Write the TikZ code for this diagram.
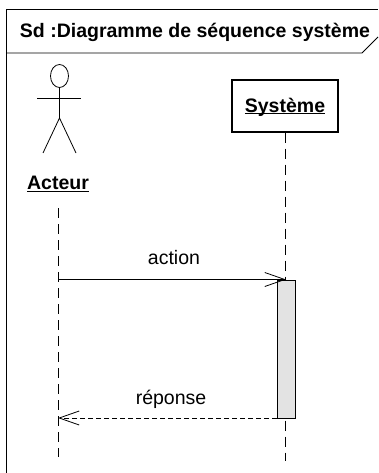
\documentclass[tikz,border=0pt]{standalone}
\usepackage{fontspec}
\setmainfont{Liberation Sans}
\usepackage{tikz}
\usetikzlibrary{arrows.meta}
\usetikzlibrary{shapes.geometric}

\begin{document}
\begin{tikzpicture}[x=1pt,y=-1pt,line width=1pt,
        lifeline/.style={dash pattern=on 10pt off 6pt,line width=0.8pt},
        message/.style={-{Straight Barb[length=20pt,width=14pt,line width=0.8pt]},line width=0.9pt},
        title/.style={font=\bfseries\fontsize{19.5}{22}\selectfont,inner sep=0pt},
        label/.style={font=\fontsize{19.5}{22}\selectfont,inner sep=0pt}]
                \useasboundingbox (0,0) rectangle (378,473);
                % frame and its tab
                \coordinate (FL) at (6.5,473);
                \coordinate (FT) at (6.5,9.5);
                \coordinate (FR) at (378,9.5);
                \coordinate (TL) at (6.5,53);
                \coordinate (TC) at (362,53);
                \coordinate (TR) at (378,37);
                \draw[line width=1.2pt] (FL) -- (FT) -- (FR);
                \draw[line width=0.9pt] (TL) -- (TC) -- (TR);
                \node[title] (diagramme) at (195,32) {Sd :Diagramme de séquence système};

                % actor
                \node[draw,ellipse,line width=0.8pt,minimum width=18pt,minimum height=23pt,inner sep=0pt] (head) at (59.5,76) {};
                \coordinate (hip) at (59.5,118);
                \coordinate (armL) at (37,98);
                \coordinate (armR) at (81,98);
                \coordinate (legL) at (43,153);
                \coordinate (legR) at (76,153);
                \draw[line width=0.8pt] (head) -- (hip);
                \draw[line width=0.8pt] (armL) -- (armR);
                \draw[line width=0.8pt] (legL) -- (hip) -- (legR);
                \node[title] (acteur) at (58,184) {\underline{Acteur}};

                % system
                \node[draw,line width=1.3pt,minimum width=106pt,minimum height=52pt,inner sep=0pt] (systeme) at (285,106) {};
                \node[title] at (systeme) {\underline{S\smash{y}stème}};

                % lifelines
                \coordinate (A1) at (58,208);
                \coordinate (A2) at (58,457);
                \coordinate (S2) at (285,461);
                \draw[lifeline] (A1) -- (A2);
                \draw[lifeline] (systeme) -- (S2);

                % activation
                \node[draw,fill=black!11,line width=0.9pt,minimum width=18pt,minimum height=138pt,inner sep=0pt] (activation) at (286,349) {};

                % messages
                \coordinate (a) at (58,279.5);
                \coordinate (b) at (286,279.5);
                \coordinate (c) at (277,418);
                \coordinate (d) at (58,418);
                \draw[message] (a) -- (b);
                \draw[message,dash pattern=on 5pt off 3pt] (c) -- (d);
                \node[label] (action) at (174,258) {action};
                \node[label] (reponse) at (171,399.5) {réponse};
            \end{tikzpicture}
\end{document}
